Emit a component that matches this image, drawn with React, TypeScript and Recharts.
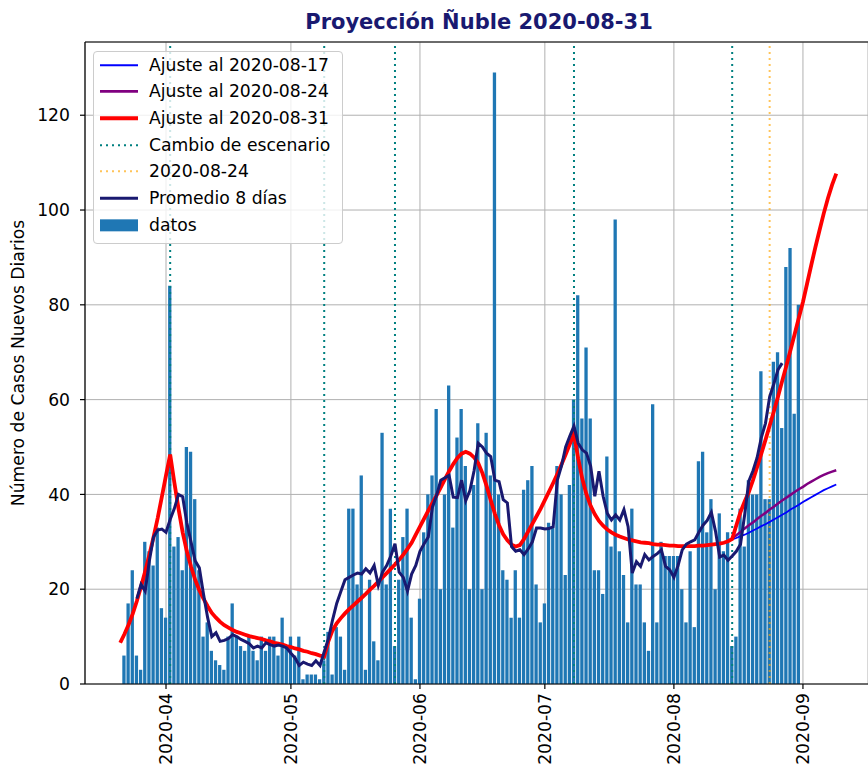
import React from 'react';
import {
  ComposedChart,
  Bar,
  Line,
  XAxis,
  YAxis,
  CartesianGrid,
  ReferenceLine,
  Legend,
} from 'recharts';

// ---------------- DATA ----------------
const TITULO = 'Proyección Ñuble 2020-08-31';
const ETIQUETA_Y = 'Número de Casos Nuevos Diarios';

// daily new cases, starting 2020-03-22
const INICIO_CASOS = '2020-03-22';
const casosDiarios = [
  6, 17, 24, 6, 3, 30, 28, 25, 33, 16,
  14, 84, 29, 31, 24, 50, 49, 39, 24, 10,
  13, 7, 5, 4, 3, 10, 17, 10, 8, 7,
  10, 7, 5, 10, 7, 10, 10, 6, 14, 8,
  10, 6, 10, 1, 2, 2, 2, 1, 5, 11,
  2, 12, 10, 3, 37, 37, 21, 44, 3, 22,
  9, 5, 53, 21, 37, 8, 22, 31, 37, 14,
  1, 18, 32, 40, 44, 58, 20, 40, 63, 33,
  52, 58, 46, 20, 42, 55, 20, 53, 44, 129,
  40, 24, 22, 14, 24, 14, 41, 43, 46, 21,
  13, 17, 34, 33, 46, 40, 23, 42, 60, 82,
  56, 71, 56, 24, 24, 19, 48, 29, 98, 28,
  23, 13, 37, 21, 21, 13, 7, 59, 13, 30,
  27, 27, 27, 27, 20, 13, 28, 12, 47, 49,
  32, 39, 20, 36, 28, 32, 8, 10, 37, 29,
  43, 40, 40, 66, 39, 39, 68, 70, 54, 88,
  92, 57, 80,
];

// 8-day average, starting 2020-03-25
const INICIO_PROMEDIO = '2020-03-25';
const promedio8Dias = [
  18, 21, 19.6, 26, 31, 32.5, 32.7, 32, 34.7, 37,
  40, 39.5, 34, 30, 26, 24.5, 19, 14, 10, 10.8,
  9, 9.2, 9.6, 10.4, 10, 9.4, 9, 8.5, 7.6, 8,
  7.6, 8.7, 8.3, 8, 8.2, 8, 7.6, 6.5, 5.5, 3.9,
  4.6, 4.2, 3.9, 4.9, 3.9, 6.8, 9.5, 13.5, 17, 19.5,
  22, 22.5, 23, 23.4, 23.2, 24.3, 23.4, 25, 20.8, 23.6,
  25, 27, 29.6, 23.6, 22.5, 19.6, 23.2, 25, 28, 29.6,
  31, 37.3, 39.8, 43, 43.5, 44, 39.4, 39.3, 43, 38.7,
  40.8, 45, 50.8, 50, 48.7, 48, 43, 42.7, 38.9, 38.2,
  29, 28, 28.3, 27.3, 28.5, 30, 32.9, 32.9, 32.7, 32.8,
  33.2, 43, 46, 50, 52.3, 54.4, 50.8, 49.4, 48.7, 46,
  39.6, 44.9, 39.6, 36, 34.6, 35.7, 34.6, 36.8, 33.2, 23.4,
  25.8, 24.8, 27.3, 26.2, 26.9, 27.5, 28.3, 24.8, 24.1, 22.5,
  25, 28.3, 29.5, 30, 30.4, 32, 33.5, 34.5, 36.2, 32.2,
  26.8, 27.2, 26.1, 27, 28, 29.5, 35.7, 42.8, 45, 47.8,
  52, 55, 60.6, 63.3, 66.3, 67.7,
];

// fit as of 2020-08-31, starting 2020-03-21
const INICIO_AJUSTE_0831 = '2020-03-21';
const ajuste0831 = [
  8.7, 10.5, 12.5, 14.8, 17.5, 20.5, 23.8, 27.3, 31, 35,
  39.5, 44, 48.4, 42.5, 37, 32, 28, 24.8, 22, 19.8,
  18, 16.4, 15, 14, 13.1, 12.4, 11.9, 11.4, 11, 10.7,
  10.4, 10.1, 9.9, 9.7, 9.5, 9.2, 9, 8.7, 8.5, 8.3,
  8, 7.8, 7.5, 7.3, 7, 6.8, 6.5, 6.3, 6, 5.8,
  9, 11.3, 12.8, 13.9, 14.9, 15.8, 16.6, 17.4, 18.2, 19,
  19.9, 20.7, 21.6, 22.5, 23.4, 24.3, 25.2, 26.2, 27.3, 28.5,
  29.8, 31.5, 33.2, 34.9, 36.6, 38.2, 39.8, 41.5, 43.2, 44.9,
  46.4, 47.7, 48.6, 49, 48.6, 47.8, 46.6, 44.5, 41.8, 38.8,
  35.9, 33.5, 31.6, 30.3, 29.4, 29, 29.3, 30.6, 32.2, 33.8,
  35.4, 37, 38.8, 40.6, 42.4, 44.3, 46.3, 48.4, 50.6, 52.8,
  47.6, 43.3, 40, 37.6, 35.8, 34.4, 33.4, 32.6, 32, 31.5,
  31.1, 30.8, 30.5, 30.3, 30.1, 29.9, 29.8, 29.7, 29.5, 29.4,
  29.4, 29.3, 29.2, 29.2, 29.1, 29.1, 29.1, 29.1, 29.1, 29.2,
  29.2, 29.3, 29.4, 29.5, 29.6, 29.8, 30.1, 30.6, 33.5, 36.3,
  38.5, 40.5, 43, 45.8, 48.6, 51.5, 54.5, 57.5, 60.6, 63.9,
  67.1, 70.4, 73.8, 77.2, 80.6, 84.5, 88.4, 92.2, 95.8, 99.3,
  102.5, 105.3, 107.7,
];

// earlier fits (visible only where they leave the latest fit), starting 2020-08-14
const INICIO_AJUSTES_PREVIOS = '2020-08-14';
const ajuste0817 = [
  30.1, 30.5, 30.8, 31.2, 31.5, 31.9, 32.4, 32.8, 33.3, 33.7,
  34.2, 34.7, 35.2, 35.7, 36.2, 36.8, 37.3, 37.8, 38.4, 38.9,
  39.4, 39.9, 40.4, 40.9, 41.3, 41.7, 42.1,
];
const ajuste0824 = [
  30.1, 30.7, 31.4, 32.1, 32.8, 33.5, 34.1, 34.8, 35.5, 36.1,
  36.8, 37.4, 38.1, 38.7, 39.3, 39.9, 40.5, 41.1, 41.6, 42.2,
  42.7, 43.2, 43.7, 44.1, 44.5, 44.8, 45.1,
];

const cambiosEscenario = ['2020-04-02', '2020-05-09', '2020-05-26', '2020-07-08', '2020-08-15'];
const fechaCorte = '2020-08-24';

const fechasMeses = ['2020-04-01', '2020-05-01', '2020-06-01', '2020-07-01', '2020-08-01', '2020-09-01'];
const etiquetasMeses = ['2020-04', '2020-05', '2020-06', '2020-07', '2020-08', '2020-09'];
const ticksY = [0, 20, 40, 60, 80, 100, 120];

const leyenda = [
  { nombre: 'Ajuste al 2020-08-17', color: '#0000ff', tipo: 'linea', grosor: 2, opacidad: 1 },
  { nombre: 'Ajuste al 2020-08-24', color: '#800080', tipo: 'linea', grosor: 2.6, opacidad: 1 },
  { nombre: 'Ajuste al 2020-08-31', color: '#ff0000', tipo: 'linea', grosor: 4, opacidad: 1 },
  { nombre: 'Cambio de escenario', color: '#008080', tipo: 'punteada', grosor: 2, opacidad: 1 },
  { nombre: '2020-08-24', color: '#ffa500', tipo: 'punteada', grosor: 2, opacidad: 0.65 },
  { nombre: 'Promedio 8 días', color: '#191970', tipo: 'linea', grosor: 3, opacidad: 1 },
  { nombre: 'datos', color: '#1f77b4', tipo: 'barra', grosor: 0, opacidad: 1 },
];

// ---------------- HELPERS ----------------
const FUENTE = '"DejaVu Sans", Verdana, sans-serif';
const FS = 17.2;
const diaDe = (f: string) => {
  const [y, m, d] = f.split('-').map(Number);
  return Math.round((Date.UTC(y, m - 1, d) - Date.UTC(2020, 2, 1)) / 86400000);
};

const mapa = new Map<number, any>();
const poner = (inicio: string, clave: string, valores: number[]) => {
  const d0 = diaDe(inicio);
  valores.forEach((v, i) => {
    const dia = d0 + i;
    let fila = mapa.get(dia);
    if (!fila) {
      fila = { dia };
      mapa.set(dia, fila);
    }
    fila[clave] = v;
  });
};
poner(INICIO_CASOS, 'casos', casosDiarios);
poner(INICIO_PROMEDIO, 'promedio', promedio8Dias);
poner(INICIO_AJUSTE_0831, 'a0831', ajuste0831);
poner(INICIO_AJUSTES_PREVIOS, 'a0817', ajuste0817);
poner(INICIO_AJUSTES_PREVIOS, 'a0824', ajuste0824);
const filas = Array.from(mapa.values()).sort((a, b) => a.dia - b.dia);

const ticksX = fechasMeses.map(diaDe);
const PX_DIA = 4.163;
const X_MIN = 11.54;
const X_MAX = X_MIN + 783 / PX_DIA;
const Y_MAX = 135.45;

const TickX = (props: any) => {
  const { x, y, payload } = props;
  const i = ticksX.indexOf(payload.value);
  return (
    <text
      transform={`translate(${x},${y}) rotate(-90)`}
      textAnchor="end"
      dominantBaseline="central"
      fontSize={FS}
      fontFamily={FUENTE}
      fill="#000"
    >
      {etiquetasMeses[i]}
    </text>
  );
};

const EtiquetaY = (props: any) => {
  const vb = props.viewBox || { x: 0, y: 42, width: 85, height: 642 };
  const cx = 18;
  const cy = vb.y + vb.height / 2;
  return (
    <text
      transform={`translate(${cx},${cy}) rotate(-90)`}
      textAnchor="middle"
      dominantBaseline="central"
      fontSize={FS}
      fontFamily={FUENTE}
      fill="#000"
    >
      {ETIQUETA_Y}
    </text>
  );
};

const CajaLeyenda = () => {
  const top0 = 51;
  const paso = 26.67;
  return (
    <div
      style={{
        position: 'absolute',
        left: 93,
        top: top0,
        width: 250,
        height: 193,
        boxSizing: 'border-box',
        border: '1px solid #cccccc',
        borderRadius: 4,
        background: 'rgba(255,255,255,0.8)',
        fontFamily: FUENTE,
        fontSize: FS,
        color: '#000',
      }}
    >
      {leyenda.map((it, i) => {
        const cy = 65 + i * paso - top0 - 1;
        return (
          <div
            key={it.nombre}
            style={{ position: 'absolute', left: 0, top: cy - paso / 2, height: paso, width: 248 }}
          >
            <svg
              width={40}
              height={paso}
              style={{ position: 'absolute', left: 5, top: 0 }}
            >
              {it.tipo === 'barra' ? (
                <rect x={1} y={paso / 2 - 6} width={38} height={12} fill={it.color} />
              ) : (
                <line
                  x1={1}
                  x2={39}
                  y1={paso / 2}
                  y2={paso / 2}
                  stroke={it.color}
                  strokeOpacity={it.opacidad}
                  strokeWidth={it.grosor}
                  strokeDasharray={it.tipo === 'punteada' ? '2 4' : undefined}
                />
              )}
            </svg>
            <span
              style={{
                position: 'absolute',
                left: 55,
                top: 0,
                lineHeight: `${paso}px`,
                whiteSpace: 'nowrap',
              }}
            >
              {it.nombre}
            </span>
          </div>
        );
      })}
    </div>
  );
};

export default function App() {
  return (
    <div style={{ position: 'absolute', left: 0, top: 0, width: 868, height: 772, background: '#fff', overflow: 'hidden' }}>
      <ComposedChart
        width={868}
        height={772}
        data={filas}
        margin={{ top: 42, right: 0, bottom: 0, left: 0 }}
      >
        <CartesianGrid stroke="#b0b0b0" strokeWidth={1} />
        <XAxis
          dataKey="dia"
          type="number"
          domain={[X_MIN, X_MAX]}
          allowDataOverflow
          ticks={ticksX}
          interval={0}
          height={88}
          tickSize={5}
          tickMargin={4}
          tick={<TickX />}
          axisLine={{ stroke: '#000', strokeWidth: 1.2 }}
          tickLine={{ stroke: '#000', strokeWidth: 1.2 }}
        />
        <YAxis
          type="number"
          domain={[0, Y_MAX]}
          allowDataOverflow
          ticks={ticksY}
          interval={0}
          width={85}
          tickSize={5}
          tickMargin={10}
          tick={{ fontSize: FS, fontFamily: FUENTE, fill: '#000' }}
          axisLine={{ stroke: '#000', strokeWidth: 1.2 }}
          tickLine={{ stroke: '#000', strokeWidth: 1.2 }}
          label={(p: any) => <EtiquetaY {...p} />}
        />
        <Bar dataKey="casos" fill="#1f77b4" barSize={3.3} isAnimationActive={false} />
        <ReferenceLine y={Y_MAX} stroke="#000" strokeWidth={1.2} />
        {cambiosEscenario.map((f) => (
          <ReferenceLine key={f} x={diaDe(f)} stroke="#008080" strokeWidth={2} strokeDasharray="2 4" />
        ))}
        <ReferenceLine x={diaDe(fechaCorte)} stroke="#ffa500" strokeOpacity={0.65} strokeWidth={2} strokeDasharray="2 4" />
        <Line dataKey="a0817" stroke="#0000ff" strokeWidth={1.8} dot={false} activeDot={false} isAnimationActive={false} />
        <Line dataKey="a0824" stroke="#800080" strokeWidth={2.5} dot={false} activeDot={false} isAnimationActive={false} />
        <Line dataKey="a0831" stroke="#ff0000" strokeWidth={3.8} dot={false} activeDot={false} isAnimationActive={false} />
        <Line dataKey="promedio" stroke="#191970" strokeWidth={3} dot={false} activeDot={false} isAnimationActive={false} />
        <Legend
          layout="vertical"
          align="center"
          verticalAlign="middle"
          content={() => <CajaLeyenda />}
          wrapperStyle={{ position: 'absolute', left: 0, top: 0, width: 0, height: 0 }}
        />
      </ComposedChart>
      <div
        style={{
          position: 'absolute',
          left: 85,
          width: 788,
          top: 12,
          textAlign: 'center',
          fontFamily: FUENTE,
          fontWeight: 'bold',
          fontSize: 21,
          lineHeight: '21px',
          color: '#191970',
          whiteSpace: 'nowrap',
        }}
      >
        {TITULO}
      </div>
    </div>
  );
}
